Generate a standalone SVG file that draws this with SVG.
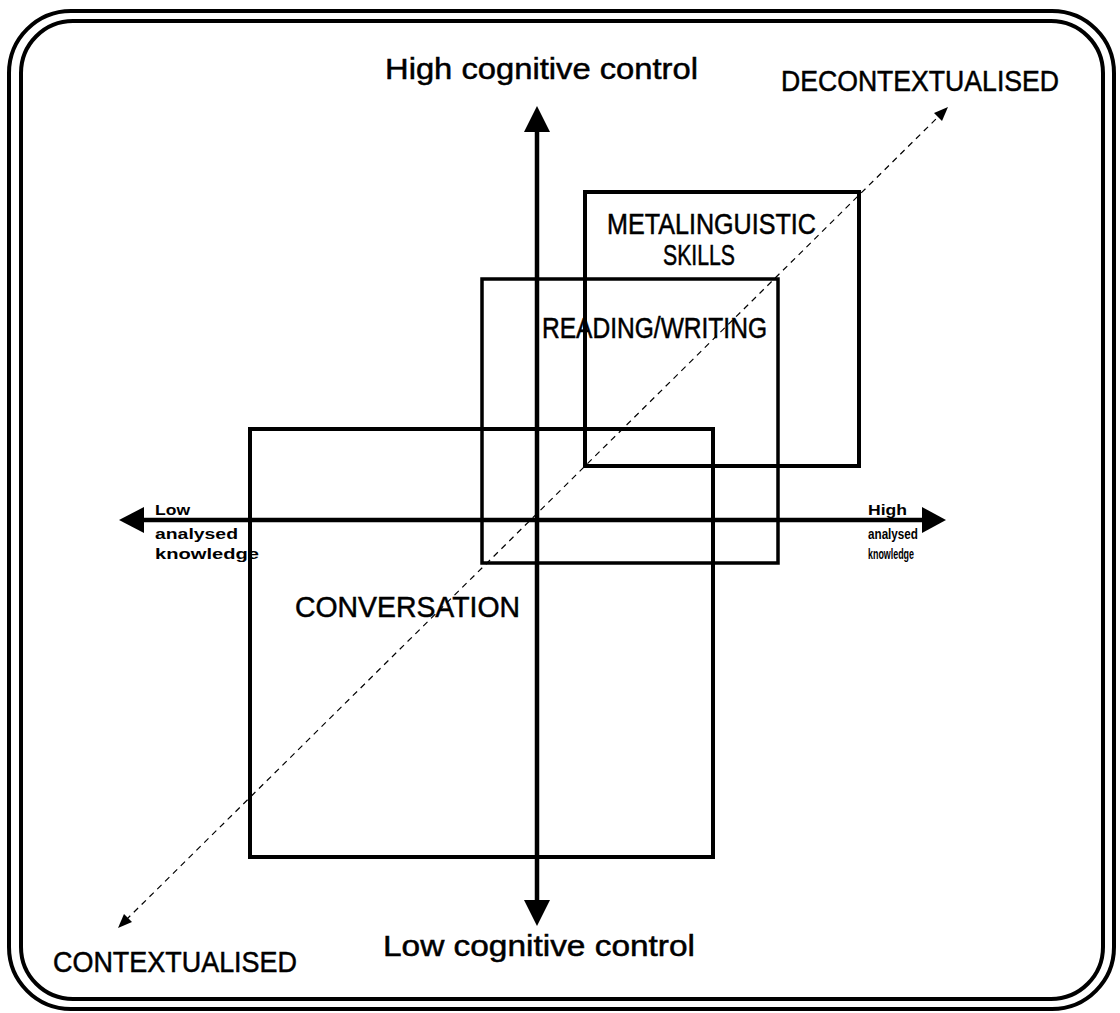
<svg xmlns="http://www.w3.org/2000/svg" width="1120" height="1013" viewBox="0 0 1120 1013">
  <style>
    .frame { fill: none; stroke: #000; stroke-width: 4; }
    .box { fill: none; stroke: #000; stroke-width: 4; }
    .axis { stroke: #000; stroke-width: 4.5; fill: none; }
    .diag { stroke: #000; stroke-width: 1.2; stroke-dasharray: 6 5; fill: none; }
    .head { fill: #000; }
    .lbl { font-family: "Liberation Sans", Arial, sans-serif; font-size: 29px; fill: #000; stroke: #000; stroke-width: 0.5; }
    .small { font-family: "Liberation Sans", Arial, sans-serif; font-size: 15px; font-weight: bold; fill: #000; }
  </style>

  <rect width="1120" height="1013" fill="#fff"/>

  <!-- double rounded frame -->
  <g id="frame">
    <rect class="frame" x="9" y="11" width="1105" height="998" rx="62" ry="62"/>
    <rect class="frame" x="21" y="21" width="1082" height="978" rx="52" ry="52"/>
  </g>

  <!-- connectors: axes and diagonal -->
  <g id="connectors">
    <line class="axis" x1="537" y1="128" x2="537" y2="905"/>
    <polygon class="head" points="537,106 524,132 550,132"/>
    <polygon class="head" points="537,926 524,900 550,900"/>

    <line class="axis" x1="140" y1="520" x2="926" y2="520"/>
    <polygon class="head" points="119,520 144,507 144,533"/>
    <polygon class="head" points="946,520 922,507 922,533"/>

    <line class="diag" x1="126" y1="920" x2="940" y2="115"/>
    <polygon class="head" points="948,107 942,121 934,113"/>
    <polygon class="head" points="118,928 124,914 132,922"/>
  </g>

  <g id="conversation">
    <rect class="box" x="250" y="429" width="463" height="428"/>
    <text class="lbl" x="295" y="617" textLength="225" lengthAdjust="spacingAndGlyphs">CONVERSATION</text>
  </g>

  <g id="reading-writing">
    <rect class="box" x="482" y="279" width="296" height="284" style="stroke-width:3.5"/>
    <text class="lbl" x="542" y="338" textLength="225" lengthAdjust="spacingAndGlyphs">READING/WRITING</text>
  </g>

  <g id="metalinguistic">
    <rect class="box" x="585" y="192" width="274" height="274"/>
    <text class="lbl" x="607" y="234" textLength="209" lengthAdjust="spacingAndGlyphs">METALINGUISTIC</text>
    <text class="lbl" x="663" y="265" textLength="72" lengthAdjust="spacingAndGlyphs">SKILLS</text>
  </g>

  <g id="axis-labels">
    <text class="lbl" x="385" y="79" textLength="313" lengthAdjust="spacingAndGlyphs">High cognitive control</text>
    <text class="lbl" x="383" y="956" textLength="312" lengthAdjust="spacingAndGlyphs">Low cognitive control</text>
    <text class="lbl" x="781" y="91" textLength="278" lengthAdjust="spacingAndGlyphs">DECONTEXTUALISED</text>
    <text class="lbl" x="53" y="972" textLength="244" lengthAdjust="spacingAndGlyphs">CONTEXTUALISED</text>

    <text class="small" x="155" y="515" textLength="35" lengthAdjust="spacingAndGlyphs">Low</text>
    <text class="small" x="155" y="539" textLength="83" lengthAdjust="spacingAndGlyphs">analysed</text>
    <text class="small" x="155" y="559" textLength="104" lengthAdjust="spacingAndGlyphs">knowledge</text>

    <text class="small" x="868" y="515" textLength="39" lengthAdjust="spacingAndGlyphs">High</text>
    <text class="small" x="868" y="539" textLength="50" lengthAdjust="spacingAndGlyphs">analysed</text>
    <text class="small" x="868" y="559" textLength="46" lengthAdjust="spacingAndGlyphs">knowledge</text>
  </g>
</svg>
